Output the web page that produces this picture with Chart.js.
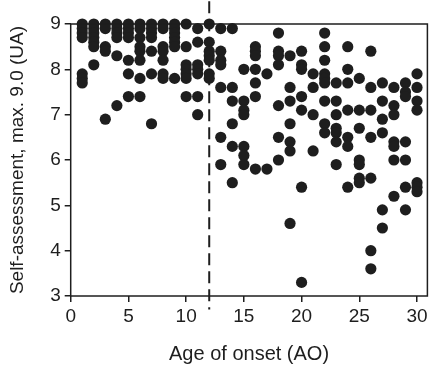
<!DOCTYPE html>
<html>
<head>
<meta charset="utf-8">
<script src="https://cdn.jsdelivr.net/npm/chart.js@4.4.1/dist/chart.umd.min.js"></script>
<style>
  html, body { margin: 0; padding: 0; background: #fff; }
</style>
</head>
<body>
<canvas id="myChart" width="433" height="366"></canvas>
<script>
// age of onset (x) and the self-assessment scores seen at each age (y)
const onsetAges = [1, 2, 3, 4, 5, 6, 7, 8, 9, 10,
                   11, 12, 13, 14, 15, 16, 17, 18, 19, 20,
                   21, 22, 23, 24, 25, 26, 27, 28, 29, 30];
const selfScores = [
  [9.0, 8.9, 8.8, 8.7, 7.9, 7.8, 7.7],
  [9.0, 8.9, 8.8, 8.7, 8.6, 8.5, 8.1],
  [9.0, 8.9, 8.5, 8.4, 6.9],
  [9.0, 8.9, 8.8, 8.7, 8.3, 7.2],
  [9.0, 8.9, 8.8, 8.7, 8.2, 7.9, 7.4],
  [9.0, 8.9, 8.7, 8.5, 8.4, 8.2, 7.8, 7.4],
  [9.0, 8.9, 8.8, 8.7, 8.4, 7.9, 6.8],
  [9.0, 8.9, 8.5, 8.4, 8.2, 7.9, 7.8],
  [9.0, 8.9, 8.8, 8.7, 8.6, 8.5, 7.8],
  [9.0, 8.5, 8.1, 8.0, 7.9, 7.8, 7.4],
  [8.9, 8.6, 8.1, 8.0, 7.9, 7.4, 7.0],
  [9.0, 8.6, 8.4, 8.3, 8.2, 7.9, 7.8],
  [8.9, 8.4, 8.2, 8.1, 7.6, 6.5, 5.9],
  [8.9, 7.6, 7.3, 6.8, 6.3, 5.5],
  [8.0, 7.3, 7.1, 7.0, 6.3, 6.1, 5.9],
  [8.5, 8.4, 8.3, 8.0, 7.7, 7.4, 5.8],
  [7.9, 5.8],
  [8.8, 8.4, 8.3, 8.1, 7.2, 6.5, 6.0],
  [8.3, 7.6, 7.3, 6.8, 6.4, 6.2, 4.6],
  [8.4, 8.1, 8.0, 7.4, 7.1, 5.4, 3.3],
  [7.9, 7.6, 7.0, 6.2],
  [8.8, 8.5, 8.2, 7.9, 7.8, 7.7, 7.3, 6.8, 6.6],
  [7.7, 7.3, 7.0, 6.7, 6.6, 6.4, 5.9],
  [8.5, 8.0, 7.7, 7.1, 6.5, 6.3, 5.4],
  [7.8, 7.1, 6.7, 6.0, 5.9, 5.6, 5.5],
  [8.4, 7.6, 7.1, 6.5, 5.6, 4.0, 3.6],
  [7.7, 7.3, 6.9, 6.6, 4.9, 4.5],
  [7.6, 7.2, 7.0, 6.4, 6.3, 6.0, 5.2],
  [7.7, 7.5, 7.4, 6.4, 6.0, 5.4, 4.9],
  [7.9, 7.6, 7.3, 7.1, 5.5, 5.4, 5.3]
];
const xTicks = [0, 5, 10, 15, 20, 25, 30];
const yTicks = [3, 4, 5, 6, 7, 8, 9];
const cutoffAge = 12;
const cutoffSpan = [9.5, 2.7];   // dashed line runs a bit past the axes

const ink = "#1e1e1e";
const fontFamily = "'Liberation Sans', Arial, Helvetica, sans-serif";

const points = [];
onsetAges.forEach((age, i) => {
  selfScores[i].forEach(s => points.push({ x: age, y: s }));
});

// box around the plot area (top and right sides as well)
const frame = {
  id: "frame",
  afterDatasetsDraw(chart) {
    const a = chart.chartArea;
    const c = chart.ctx;
    c.save();
    c.strokeStyle = ink;
    c.lineWidth = 1.5;
    c.strokeRect(a.left, a.top, a.right - a.left, a.bottom - a.top);
    c.restore();
  }
};

const ctx = document.getElementById("myChart").getContext("2d");
const myChart = new Chart(ctx, {
  type: "scatter",
  data: {
    datasets: [
      {
        data: points,
        backgroundColor: ink,
        borderWidth: 0,
        pointRadius: 5.6,
        clip: false,
        order: 1
      },
      {
        type: "line",
        data: cutoffSpan.map(v => ({ x: cutoffAge, y: v })),
        borderColor: ink,
        borderWidth: 2,
        borderDash: [12, 6],
        pointRadius: 0,
        fill: false,
        clip: false,
        order: 2
      }
    ]
  },
  options: {
    responsive: false,
    animation: false,
    layout: { padding: { top: 24, right: 2, left: 0, bottom: 0 } },
    plugins: { legend: { display: false }, tooltip: { enabled: false } },
    scales: {
      x: {
        type: "linear",
        min: 0,
        max: 30.9,
        afterFit: s => { s.height = 70; },
        afterBuildTicks: s => { s.ticks = xTicks.map(v => ({ value: v })); },
        ticks: { color: ink, font: { family: fontFamily, size: 19 }, padding: 3 },
        grid: { drawOnChartArea: false, tickLength: 6, color: ink, lineWidth: 1.5 },
        border: { display: false },
        title: {
          display: true,
          text: "Age of onset (AO)",
          color: ink,
          font: { family: fontFamily, size: 20 },
          padding: { top: 0, bottom: 0 }
        }
      },
      y: {
        min: 3,
        max: 9,
        afterFit: s => { s.width = 70.7; },
        afterBuildTicks: s => { s.ticks = yTicks.map(v => ({ value: v })); },
        ticks: { color: ink, font: { family: fontFamily, size: 19 }, padding: 4 },
        grid: { drawOnChartArea: false, tickLength: 6, color: ink, lineWidth: 1.5 },
        border: { display: false },
        title: {
          display: true,
          text: "Self-assessment, max. 9.0 (UA)",
          color: ink,
          font: { family: fontFamily, size: 19 },
          padding: { top: 6, bottom: 0 }
        }
      }
    }
  },
  plugins: [frame]
});
</script>
</body>
</html>
